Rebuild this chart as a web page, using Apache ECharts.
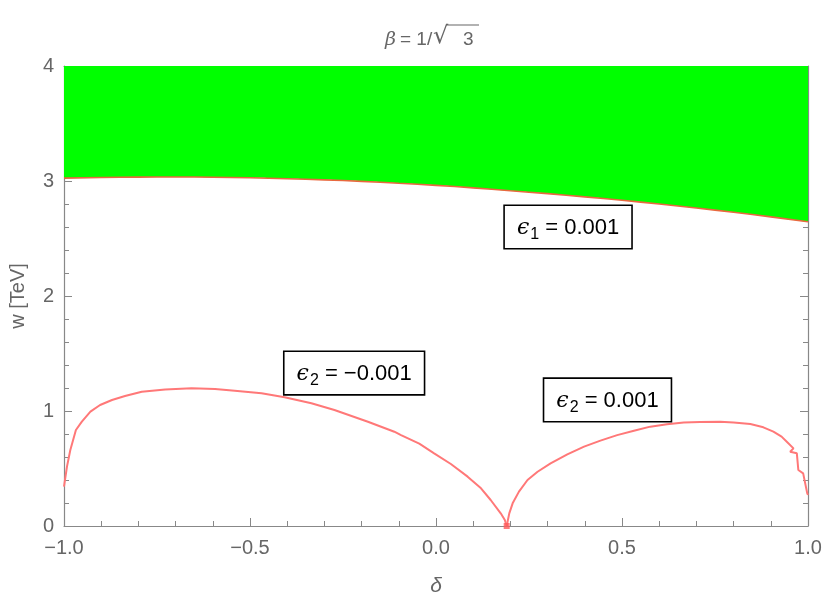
<!DOCTYPE html>
<html>
<head>
<meta charset="utf-8">
<script src="https://cdn.jsdelivr.net/npm/echarts@6/dist/echarts.min.js"></script>
<style>html,body{margin:0;padding:0;background:#fff}#c{width:825px;height:607px}</style>
</head>
<body>
<div id="c"></div>
<script>
// Upper boundary (epsilon1 = 0.001), region above it is green
const upperDelta = [-1,-0.9,-0.8,-0.7,-0.6,-0.5,-0.4,-0.3,-0.2,-0.1,0,0.1,0.2,0.3,0.4,0.5,0.6,0.7,0.8,0.9,1.0];
const upperW     = [3.025,3.03,3.034,3.035,3.033,3.028,3.02,3.01,2.997,2.98,2.962,2.94,2.915,2.89,2.862,2.832,2.8,2.765,2.728,2.688,2.645];
// epsilon2 = -0.001
const negDelta = [-1,-0.992,-0.983,-0.968,-0.952,-0.929,-0.903,-0.871,-0.836,-0.791,-0.728,-0.657,-0.594,-0.541,-0.469,-0.407,-0.335,-0.273,-0.183,-0.112,-0.094,-0.045,-0.005,0.040,0.085,0.121,0.147,0.174,0.185,0.190];
const negW     = [0.342,0.516,0.661,0.835,0.907,0.994,1.052,1.096,1.130,1.168,1.188,1.197,1.191,1.177,1.154,1.119,1.067,1.009,0.907,0.820,0.791,0.716,0.632,0.539,0.429,0.328,0.226,0.110,0.052,0];
// epsilon2 = 0.001
const posDelta = [0.190,0.197,0.206,0.223,0.246,0.273,0.308,0.353,0.398,0.442,0.487,0.532,0.576,0.621,0.666,0.710,0.764,0.800,0.845,0.880,0.907,0.929,0.943,0.961,0.952,0.970,0.974,0.987,0.998,1.0];
const posW     = [0,0.110,0.197,0.299,0.400,0.472,0.545,0.623,0.690,0.742,0.790,0.829,0.864,0.884,0.899,0.904,0.907,0.901,0.887,0.858,0.820,0.777,0.733,0.675,0.646,0.632,0.487,0.458,0.284,0.27];
// Cusp point where both epsilon2 curves meet
const cusp = [[0.19,0]];
// Tick labels
const xTicks = {'-1':'\u22121.0','-0.5':'\u22120.5','0':'0.0','0.5':'0.5','1':'1.0'};
const yTicks = {'0':'0','1':'1','2':'2','3':'3','4':'4'};
// Annotations: [delta, w, subscript, value]
const notes = [[0.355,2.6,'1',' = 0.001'],[-0.22,1.33,'2',' = \u22120.001'],[0.461,1.096,'2',' = 0.001']];

const zip = (a,b) => a.map((v,i)=>[v,b[i]]);
const FONT = '"Liberation Sans", Arial, sans-serif';
const axisCol = '#888';
const labCol = '#666';
const curveCol = '#ff7878';

const chart = echarts.init(document.getElementById('c'), null, {renderer:'canvas'});
const baseAxis = {
  axisLine:{show:true,onZero:false,lineStyle:{color:axisCol,width:1.2}},
  axisTick:{show:true,inside:true,length:8,lineStyle:{color:axisCol}},
  minorTick:{show:true,splitNumber:5,length:5,lineStyle:{color:axisCol}},
  splitLine:{show:false}
};
chart.setOption({
  animation:false,
  grid:{left:62,right:17,top:66,bottom:81},
  xAxis:[
    Object.assign({type:'value',min:-1,max:1,interval:0.5,position:'bottom',
      name:'\u03b4',nameLocation:'middle',nameGap:50,
      nameTextStyle:{fontFamily:FONT,fontSize:21,fontStyle:'italic',color:labCol},
      axisLabel:{fontFamily:FONT,fontSize:20,color:labCol,margin:12,formatter:v=>xTicks[String(v)]??''}},baseAxis),
    Object.assign({type:'value',min:-1,max:1,interval:0.5,position:'top',axisLabel:{show:false}},baseAxis)
  ],
  yAxis:[
    Object.assign({type:'value',min:0,max:4,interval:1,position:'left',
      name:'w [TeV]',nameLocation:'middle',nameGap:36,nameRotate:90,
      nameTextStyle:{fontFamily:FONT,fontSize:20,color:labCol},
      axisLabel:{fontFamily:FONT,fontSize:20,color:labCol,margin:10,formatter:v=>yTicks[String(v)]??''}},baseAxis),
    Object.assign({type:'value',min:0,max:4,interval:1,position:'right',axisLabel:{show:false}},baseAxis)
  ],
  series:[
    {type:'line',data:zip(upperDelta,upperW),showSymbol:false,smooth:true,
      lineStyle:{color:'#e8683e',width:1.6},
      areaStyle:{origin:'end',color:'#00ff00',opacity:1},z:2},
    {type:'line',data:zip(negDelta,negW),showSymbol:false,smooth:false,
      lineStyle:{color:curveCol,width:2},z:3},
    {type:'line',data:zip(posDelta,posW),showSymbol:false,smooth:false,
      lineStyle:{color:curveCol,width:2},z:3},
    {type:'scatter',data:cusp,symbol:'rect',symbolSize:6,itemStyle:{color:'#ff5a5a'},z:4}
  ]
});

function drawOverlay(){
  const els = [];
  notes.forEach(n=>{
    const p = chart.convertToPixel({xAxisIndex:0,yAxisIndex:0},[n[0],n[1]]);
    els.push({type:'text',x:p[0],y:p[1],z:10,
      style:{text:'{e|\u03f5}{s|'+n[2]+'}{t|'+n[3]+'}',
        align:'center',verticalAlign:'middle',
        backgroundColor:'#fff',borderColor:'#000',borderWidth:1.6,
        padding:[7,12,5,12],
        rich:{
          e:{fontFamily:'"DejaVu Serif", serif',fontStyle:'italic',fontSize:22,fill:'#000',lineHeight:30,verticalAlign:'middle'},
          s:{fontFamily:FONT,fontSize:16,fill:'#000',lineHeight:30,verticalAlign:'bottom',padding:[10,0,0,1]},
          t:{fontFamily:FONT,fontSize:22,fill:'#000',lineHeight:30,verticalAlign:'middle'}
        }}});
  });
  // title: beta = 1/sqrt(3)
  const tEl = (t,x,y,font)=>({type:'text',x:x,y:y,z:10,
    style:{text:t,fill:labCol,font:font,textAlign:'left',textVerticalAlign:'middle',align:'left',verticalAlign:'middle'}});
  els.push(tEl('\u03b2',385,40,'italic 19px "DejaVu Serif", serif'));
  els.push(tEl('= 1/',400,40,'19px "Liberation Sans", Arial, sans-serif'));
  els.push(tEl('\u221a',433,37,'24px "DejaVu Sans", sans-serif'));
  els.push(tEl('3',463,40,'19px "Liberation Sans", Arial, sans-serif'));
  els.push({type:'line',z:10,shape:{x1:446,y1:25,x2:479,y2:25},style:{stroke:labCol,lineWidth:1.2}});
  chart.setOption({graphic:els});
}
drawOverlay();
</script>
</body>
</html>
